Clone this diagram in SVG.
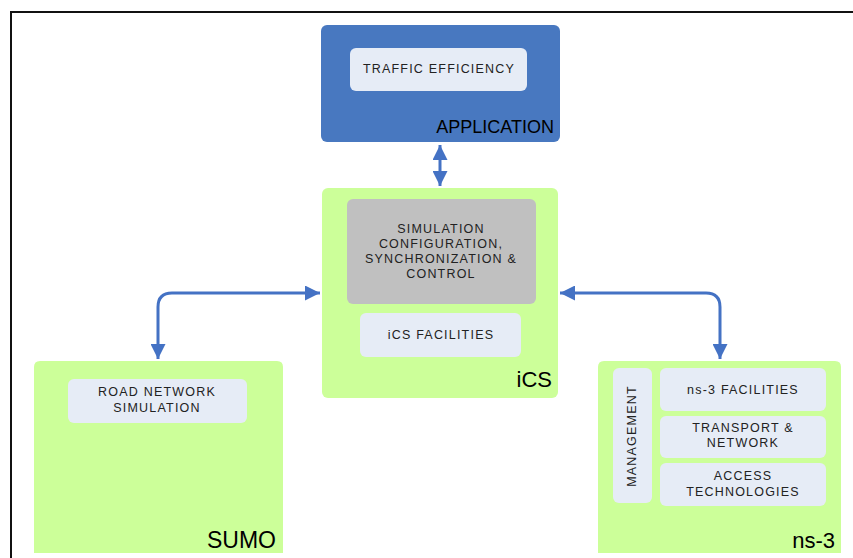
<svg xmlns="http://www.w3.org/2000/svg" width="853" height="558" viewBox="0 0 853 558">
<defs>
<style>
.outer{fill:#ccff99}
.app{fill:#4878c0}
.inner{fill:#e6ecf6}
.grey{fill:#c0c0c0}
.t{font-family:"Liberation Sans",Arial,sans-serif;font-size:12.5px;letter-spacing:1.2px;fill:#222;text-anchor:middle}
.big{font-family:"Liberation Sans",Arial,sans-serif;fill:#000;text-anchor:end}
.conn{fill:none;stroke:#4472c4;stroke-width:3}
</style>
<marker id="ah" viewBox="0 0 10 10" refX="10" refY="5" markerWidth="5" markerHeight="5" markerUnits="strokeWidth" orient="auto-start-reverse">
<path d="M0,0 L10,5 L0,10 Z" fill="#4472c4"/>
</marker>
</defs>
<rect x="0" y="0" width="853" height="558" fill="#fff"/>
<path d="M11,558 L11,12 L853,12" fill="none" stroke="#111" stroke-width="2"/>

<g id="application">
<rect class="app" x="321" y="25" width="239" height="117" rx="6"/>
<rect class="inner" x="350" y="48" width="177" height="43" rx="6"/>
<text class="t" x="439" y="73">TRAFFIC EFFICIENCY</text>
<text class="big" x="554" y="133" font-size="18">APPLICATION</text>
</g>

<g id="ics">
<rect class="outer" x="322" y="188" width="236" height="210" rx="6"/>
<rect class="grey" x="347" y="199" width="189" height="105" rx="6"/>
<text class="t" x="441" y="233">SIMULATION</text>
<text class="t" x="441" y="248">CONFIGURATION,</text>
<text class="t" x="441" y="263">SYNCHRONIZATION &amp;</text>
<text class="t" x="441" y="278">CONTROL</text>
<rect class="inner" x="360" y="313" width="161" height="44" rx="6"/>
<text class="t" x="441" y="339">iCS FACILITIES</text>
<text class="big" x="552" y="387" font-size="22">iCS</text>
</g>

<g id="sumo">
<path class="outer" d="M34,553 L34,367 Q34,361 40,361 L277,361 Q283,361 283,367 L283,553 Z"/>
<rect class="inner" x="68" y="379" width="179" height="44" rx="6"/>
<text class="t" x="157" y="396">ROAD NETWORK</text>
<text class="t" x="157" y="412">SIMULATION</text>
<text class="big" x="276" y="548" font-size="23">SUMO</text>
</g>

<g id="ns3">
<path class="outer" d="M598,553 L598,367 Q598,361 604,361 L835,361 Q841,361 841,367 L841,553 Z"/>
<rect class="inner" x="613" y="368" width="39" height="135" rx="6"/>
<text class="t" transform="translate(636,436) rotate(-90)">MANAGEMENT</text>
<rect class="inner" x="660" y="368" width="166" height="43" rx="6"/>
<text class="t" x="743" y="394">ns-3 FACILITIES</text>
<rect class="inner" x="660" y="416" width="166" height="42" rx="6"/>
<text class="t" x="743" y="432">TRANSPORT &amp;</text>
<text class="t" x="743" y="447">NETWORK</text>
<rect class="inner" x="660" y="463" width="166" height="43" rx="6"/>
<text class="t" x="743" y="480">ACCESS</text>
<text class="t" x="743" y="496">TECHNOLOGIES</text>
<text class="big" x="835" y="548" font-size="22">ns-3</text>
</g>

<g id="connectors">
<path class="conn" d="M440,145 L440,186" marker-start="url(#ah)" marker-end="url(#ah)"/>
<path class="conn" d="M320,293 L172,293 Q158,293 158,307 L158,359" marker-start="url(#ah)" marker-end="url(#ah)"/>
<path class="conn" d="M560,293 L706,293 Q720,293 720,307 L720,359" marker-start="url(#ah)" marker-end="url(#ah)"/>
</g>
</svg>
